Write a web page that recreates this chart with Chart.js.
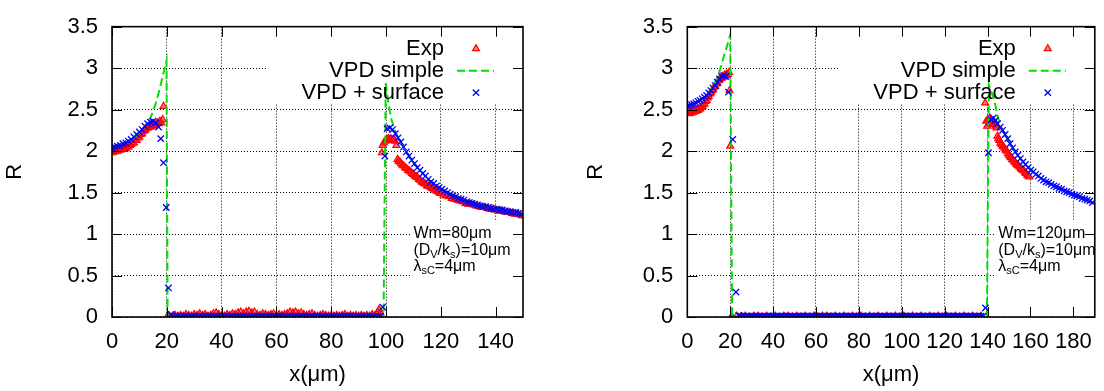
<!DOCTYPE html>
<html><head><meta charset="utf-8">
<script src="https://cdn.jsdelivr.net/npm/chart.js@4/dist/chart.umd.min.js"></script>
<style>
html,body{margin:0;padding:0;background:#fff;}
#wrap{position:relative;width:1104px;height:391px;overflow:hidden;background:#fff;}
canvas{position:absolute;top:0;}
#c1{left:0;} #c2{left:552px;}
</style></head><body>
<div id="wrap"><canvas id="c1" width="552" height="391"></canvas><canvas id="c2" width="552" height="391"></canvas></div>
<script>
const FONT = "'Liberation Sans', Arial, Helvetica, sans-serif";
const seriesLabels = ['Exp', 'VPD simple', 'VPD + surface'];
const yTicks = [0, 0.5, 1, 1.5, 2, 2.5, 3, 3.5];
const yTickLabels = ['0', '0.5', '1', '1.5', '2', '2.5', '3', '3.5'];
const xTicksLeft = [0, 20, 40, 60, 80, 100, 120, 140];
const xTicksRight = [0, 20, 40, 60, 80, 100, 120, 140, 160, 180];
const xTitle = 'x(μm)';
const yTitle = 'R';
const notesLeft = ['Wm=80μm', '(D_{V}/k_{s})=10μm', 'λ_{sC}=4μm'];
const notesRight = ['Wm=120μm', '(D_{V}/k_{s})=10μm', 'λ_{sC}=4μm'];

// ---------- left panel (Wm = 80 µm) ----------
const expLeft = [
 [0,1.98],[0.5,2.00],[1,1.99],[1.5,2.01],[2,2.00],[2.5,2.02],[3,2.01],[3.5,2.02],[4,2.02],[4.5,2.04],
 [5,2.03],[5.5,2.05],[6,2.05],[6.5,2.07],[7,2.08],[7.5,2.10],[8,2.10],[8.5,2.13],[9,2.13],[9.5,2.16],
 [10,2.17],[10.5,2.20],[11,2.21],[11.5,2.24],[12,2.25],[12.5,2.27],[13,2.28],[13.5,2.30],[14,2.29],[14.5,2.31],
 [15,2.30],[15.5,2.32],[16,2.31],[16.5,2.34],[17,2.33],[17.5,2.36],[18,2.34],[18.5,2.38],[18.8,2.54],
 [20.2,0.01],[21,0.01],[22,0.00],[23,0.02],[24,0.01],[25,0.02],[26,0.01],[27,0.03],[28,0.02],[29,0.01],
 [30,0.03],[31,0.02],[32,0.04],[33,0.02],[34,0.03],[35,0.01],[36,0.02],[37,0.04],[38,0.05],[39,0.03],
 [40,0.02],[41,0.01],[42,0.03],[43,0.02],[44,0.04],[45,0.03],[46,0.05],[47,0.06],[48,0.04],[49,0.06],
 [50,0.07],[51,0.05],[52,0.06],[53,0.03],[54,0.02],[55,0.04],[56,0.03],[57,0.02],[58,0.03],[59,0.04],
 [60,0.02],[61,0.03],[62,0.02],[63,0.03],[64,0.04],[65,0.06],[66,0.05],[67,0.06],[68,0.04],[69,0.05],
 [70,0.03],[71,0.02],[72,0.03],[73,0.04],[74,0.02],[75,0.01],[76,0.02],[77,0.03],[78,0.02],[79,0.01],
 [80,0.02],[81,0.01],[82,0.02],[83,0.01],[84,0.02],[85,0.03],[86,0.01],[87,0.02],[88,0.01],[89,0.02],
 [90,0.01],[91,0.02],[92,0.01],[93,0.02],[94,0.01],[95,0.03],[96,0.02],[97,0.06],[97.5,0.09],[98,0.05],
 [98.5,1.98],[98.8,2.07],[99.2,2.10],[99.8,2.12],[100.3,2.14],[100.8,2.15],[101.3,2.14],[101.8,2.15],[102.3,2.13],[102.8,2.14],
 [103.3,2.12],[103.8,2.07],[104.2,1.90],[104.6,1.88],[105,1.87],[105.5,1.85],[106,1.83],[106.5,1.82],[107,1.80],[107.5,1.79],
 [108,1.77],[108.5,1.76],[109,1.75],[109.5,1.73],[110,1.72],[110.5,1.70],[111,1.69],[111.5,1.68],[112,1.66],[112.5,1.65],
 [113,1.63],[113.5,1.62],[114,1.61],[114.5,1.60],[115,1.58],[115.5,1.58],[116,1.57],[116.5,1.56],[117,1.55],[117.5,1.54],
 [118,1.53],[118.5,1.52],[119,1.51],[119.5,1.50],[120,1.49],[121,1.47],[122,1.46],[123,1.45],[124,1.43],[125,1.42],
 [126,1.41],[127,1.40],[128,1.39],[129,1.37],[130,1.36],[131,1.36],[132,1.35],[133,1.34],[134,1.33],[135,1.32],
 [136,1.32],[137,1.31],[138,1.30],[139,1.30],[140,1.29],[141,1.28],[142,1.28],[143,1.27],[144,1.26],[145,1.26],
 [146,1.25],[147,1.24],[148,1.24],[149,1.23],[150,1.22]
];
const vpdSimpleLeft = [
 [0,2.03],[2,2.05],[4,2.08],[6,2.11],[8,2.16],[10,2.22],[12,2.30],[13,2.35],[14,2.40],[15,2.48],
 [16,2.58],[17,2.70],[18,2.83],[19,2.97],[19.9,3.09],[20.3,0],[99.1,0],[99.9,2.82],[101,2.55],[102,2.38],
 [103,2.27],[104,2.19],[105,2.13],[106,2.07],[108,1.96],[110,1.86],[112,1.78],[114,1.71],[116,1.64],[118,1.59],
 [120,1.54],[124,1.47],[128,1.41],[132,1.37],[136,1.33],[140,1.30],[145,1.27],[150,1.23]
];
const vpdSurfaceLeft = [
 [0,2.04],[1,2.05],[2,2.06],[3,2.07],[4,2.09],[5,2.10],[6,2.12],[7,2.14],[8,2.17],[9,2.20],
 [10,2.23],[11,2.26],[12,2.30],[13,2.33],[14,2.35],[15,2.36],[16,2.34],[17,2.29],[17.8,2.15],[18.8,1.86],
 [19.8,1.32],[20.6,0.35],[21.5,0.03],
 [22,0.01],[23,0.01],[24,0.01],[25,0.01],[26,0.01],[27,0.01],[28,0.01],[29,0.01],[30,0.01],[31,0.01],
 [32,0.01],[33,0.01],[34,0.01],[35,0.01],[36,0.01],[37,0.01],[38,0.01],[39,0.01],[40,0.01],[41,0.01],
 [42,0.01],[43,0.01],[44,0.01],[45,0.01],[46,0.01],[47,0.01],[48,0.01],[49,0.01],[50,0.01],[51,0.01],
 [52,0.01],[53,0.01],[54,0.01],[55,0.01],[56,0.01],[57,0.01],[58,0.01],[59,0.01],[60,0.01],[61,0.01],
 [62,0.01],[63,0.01],[64,0.01],[65,0.01],[66,0.01],[67,0.01],[68,0.01],[69,0.01],[70,0.01],[71,0.01],
 [72,0.01],[73,0.01],[74,0.01],[75,0.01],[76,0.01],[77,0.01],[78,0.01],[79,0.01],[80,0.01],[81,0.01],
 [82,0.01],[83,0.01],[84,0.01],[85,0.01],[86,0.01],[87,0.01],[88,0.01],[89,0.01],[90,0.01],[91,0.01],
 [92,0.01],[93,0.01],[94,0.01],[95,0.01],[96,0.01],[97,0.01],[98,0.01],
 [98.8,0.12],[99.6,1.94],[100.4,2.27],[101.4,2.28],[102.4,2.26],[103.4,2.21],[104.4,2.16],[105.4,2.11],[106.4,2.05],[107.4,1.99],
 [108.4,1.94],[109.4,1.89],[110.4,1.85],[111.4,1.80],[112.4,1.77],[113.4,1.73],[114.4,1.70],[115.4,1.66],[116.4,1.63],[117.4,1.61],
 [118.4,1.58],[119.4,1.56],[120.4,1.54],[121.4,1.52],[122.4,1.50],[123.4,1.48],[124.4,1.46],[125.4,1.45],[126.4,1.43],[127.4,1.42],
 [128.4,1.41],[129.4,1.39],[130.4,1.38],[131.4,1.37],[132.4,1.36],[133.4,1.35],[134.4,1.34],[135.4,1.33],[136.4,1.33],[137.4,1.32],
 [138.4,1.31],[139.4,1.30],[140.4,1.30],[141.4,1.29],[142.4,1.29],[143.4,1.28],[144.4,1.27],[145.4,1.27],[146.4,1.26],[147.4,1.26],
 [148.4,1.25],[149.4,1.24]
];

// ---------- right panel (Wm = 120 µm) ----------
const expRight = [
 [0,2.46],[0.5,2.48],[1,2.45],[1.5,2.47],[2,2.46],[2.5,2.48],[3,2.47],[3.5,2.49],[4,2.48],[4.5,2.50],
 [5,2.49],[5.5,2.51],[6,2.51],[6.5,2.53],[7,2.54],[7.5,2.56],[8,2.57],[8.5,2.60],[9,2.61],[9.5,2.64],
 [10,2.66],[10.5,2.69],[11,2.70],[11.5,2.73],[12,2.74],[12.5,2.77],[13,2.78],[13.5,2.81],[14,2.82],[14.5,2.85],
 [15,2.86],[15.5,2.88],[16,2.88],[16.5,2.90],[17,2.89],[17.5,2.92],[18,2.91],[18.5,2.93],[19,2.92],[19.5,2.95],
 [19.7,2.73],[20.0,2.06],[20.5,0.00],
 [21,0.00],[23,0.01],[25,0.00],[27,0.01],[29,0.00],[31,0.01],[33,0.01],[35,0.00],[37,0.01],[39,0.00],
 [41,0.01],[43,0.00],[45,0.01],[47,0.01],[49,0.00],[51,0.01],[53,0.00],[55,0.01],[57,0.00],[59,0.01],
 [61,0.00],[63,0.01],[65,0.01],[67,0.00],[69,0.01],[71,0.00],[73,0.01],[75,0.00],[77,0.01],[79,0.00],
 [81,0.01],[83,0.00],[85,0.01],[87,0.00],[89,0.01],[91,0.00],[93,0.01],[95,0.00],[97,0.01],[99,0.00],
 [101,0.01],[103,0.00],[105,0.01],[107,0.00],[109,0.01],[111,0.00],[113,0.01],[115,0.00],[117,0.01],[119,0.00],
 [121,0.01],[123,0.00],[125,0.01],[127,0.00],[129,0.01],[131,0.00],[133,0.01],[135,0.00],[137,0.01],
 [138.9,2.58],[139.4,2.36],[139.8,2.30],[140.2,2.38],[140.6,2.33],[141,2.40],[141.4,2.35],[141.8,2.37],[142.2,2.33],[142.6,2.36],
 [143,2.32],[143.4,2.34],[143.8,2.30],[144.2,2.28],[144.6,2.18],[145,2.15],[145.5,2.13],[146,2.10],[146.5,2.08],[147,2.06],
 [147.5,2.05],[148,2.03],[148.5,2.01],[149,2.00],[149.5,1.97],[150,1.95],[150.5,1.93],[151,1.92],[151.5,1.90],[152,1.89],
 [152.5,1.87],[153,1.86],[153.5,1.84],[154,1.83],[154.5,1.82],[155,1.81],[155.5,1.79],[156,1.78],[156.5,1.77],[157,1.76],
 [157.5,1.74],[158,1.73],[158.5,1.71],[159,1.70],[159.5,1.69]
];
const vpdSimpleRight = [
 [0,2.54],[4,2.58],[8,2.65],[10,2.71],[12,2.78],[13,2.83],[14,2.89],[15,2.96],[16,3.05],[17,3.14],
 [18,3.22],[19,3.31],[20,3.40],[20.9,0],[139.7,0],[140.6,2.80],[142,2.70],[143.2,2.61],[144.7,2.42],[146,2.31],
 [148,2.21],[150,2.11],[152,2.03],[155,1.92],[158,1.83],[161,1.76],[165,1.67],[170,1.60],[175,1.54],[180,1.48],
 [185,1.43],[190,1.37]
];
const vpdSurfaceRight = [
 [0,2.54],[1,2.55],[2,2.56],[3,2.57],[4,2.58],[5,2.60],[6,2.61],[7,2.63],[8,2.65],[9,2.67],
 [10,2.70],[11,2.73],[12,2.76],[13,2.79],[14,2.83],[15,2.87],[16,2.90],[17,2.91],[18,2.90],[19.2,2.71],
 [21.2,2.14],[22.7,0.30],[24,0.02],
 [25,0.01],[26,0.01],[27,0.01],[28,0.01],[29,0.01],[30,0.01],[31,0.01],[32,0.01],[33,0.01],[34,0.01],
 [35,0.01],[36,0.01],[37,0.01],[38,0.01],[39,0.01],[40,0.01],[41,0.01],[42,0.01],[43,0.01],[44,0.01],
 [45,0.01],[46,0.01],[47,0.01],[48,0.01],[49,0.01],[50,0.01],[51,0.01],[52,0.01],[53,0.01],[54,0.01],
 [55,0.01],[56,0.01],[57,0.01],[58,0.01],[59,0.01],[60,0.01],[61,0.01],[62,0.01],[63,0.01],[64,0.01],
 [65,0.01],[66,0.01],[67,0.01],[68,0.01],[69,0.01],[70,0.01],[71,0.01],[72,0.01],[73,0.01],[74,0.01],
 [75,0.01],[76,0.01],[77,0.01],[78,0.01],[79,0.01],[80,0.01],[81,0.01],[82,0.01],[83,0.01],[84,0.01],
 [85,0.01],[86,0.01],[87,0.01],[88,0.01],[89,0.01],[90,0.01],[91,0.01],[92,0.01],[93,0.01],[94,0.01],
 [95,0.01],[96,0.01],[97,0.01],[98,0.01],[99,0.01],[100,0.01],[101,0.01],[102,0.01],[103,0.01],[104,0.01],
 [105,0.01],[106,0.01],[107,0.01],[108,0.01],[109,0.01],[110,0.01],[111,0.01],[112,0.01],[113,0.01],[114,0.01],
 [115,0.01],[116,0.01],[117,0.01],[118,0.01],[119,0.01],[120,0.01],[121,0.01],[122,0.01],[123,0.01],[124,0.01],
 [125,0.01],[126,0.01],[127,0.01],[128,0.01],[129,0.01],[130,0.01],[131,0.01],[132,0.01],[133,0.01],[134,0.01],
 [135,0.01],[136,0.01],[137,0.01],[138,0.01],
 [139.0,0.11],[140.4,1.98],[141.7,2.38],[142.7,2.40],[143.7,2.37],[144.7,2.33],[145.9,2.29],[147.0,2.25],[148.2,2.20],[149.4,2.15],
 [150.5,2.09],[151.7,2.04],[152.9,1.99],[154.1,1.95],[155.3,1.91],[156.5,1.87],[157.7,1.84],[158.9,1.80],[160.1,1.77],[161.3,1.75],
 [162.5,1.72],[163.7,1.70],[164.9,1.67],[166.1,1.65],[167.3,1.63],[168.5,1.62],[169.7,1.60],[170.9,1.58],[172.1,1.57],[173.3,1.55],
 [174.5,1.54],[175.7,1.52],[176.9,1.51],[178.1,1.50],[179.3,1.48],[180.5,1.47],[181.7,1.46],[182.9,1.45],[184.1,1.43],[185.3,1.42],
 [186.5,1.41],[187.7,1.40],[188.9,1.38]
];

function toPts(a) { return a.map(p => ({ x: p[0], y: p[1] })); }

function drawRich(ctx, str, x, y, size, subSize, subDy) {
  const parts = str.split(/(_\{[^}]*\})/).filter(Boolean);
  let cx = x;
  parts.forEach(p => {
    if (p.startsWith('_{')) {
      const t = p.slice(2, -1);
      ctx.font = subSize + 'px ' + FONT;
      ctx.fillText(t, cx, y + subDy);
      cx += ctx.measureText(t).width;
    } else {
      ctx.font = size + 'px ' + FONT;
      ctx.fillText(p, cx, y);
      cx += ctx.measureText(p).width;
    }
  });
}

const gpPlugin = {
  id: 'gp',
  beforeDatasetsDraw(chart, args, o) {
    const ctx = chart.ctx, a = chart.chartArea;
    const xs = chart.scales.x, ys = chart.scales.y;
    ctx.save();
    ctx.fillStyle = '#fff';
    ctx.fillRect(a.right - o.keyWidth, a.top, o.keyWidth, o.keyHeight);
    const lx = xs.getPixelForValue(o.noteAt[0]) - 3;
    const ly = ys.getPixelForValue(o.noteAt[1]) - 13;
    ctx.fillRect(lx, ly, a.right - lx, a.bottom - ly);
    ctx.restore();
  },
  afterDatasetsDraw(chart, args, o) {
    const ctx = chart.ctx, a = chart.chartArea;
    const xs = chart.scales.x, ys = chart.scales.y;
    ctx.save();
    ctx.strokeStyle = '#000';
    ctx.lineWidth = 1;
    ctx.setLineDash([]);
    ctx.beginPath();
    xs.ticks.forEach(t => {
      const px = Math.round(xs.getPixelForValue(t.value)) + 0.5;
      ctx.moveTo(px, a.bottom); ctx.lineTo(px, a.bottom - 10);
      ctx.moveTo(px, a.top); ctx.lineTo(px, a.top + 10);
    });
    ys.ticks.forEach(t => {
      const py = Math.round(ys.getPixelForValue(t.value)) + 0.5;
      ctx.moveTo(a.left, py); ctx.lineTo(a.left + 10, py);
      ctx.moveTo(a.right, py); ctx.lineTo(a.right - 10, py);
    });
    ctx.stroke();
    ctx.lineWidth = 1.6;
    ctx.strokeRect(a.left, a.top, a.right - a.left, a.bottom - a.top);

    ctx.fillStyle = '#000';
    ctx.textBaseline = 'middle';
    ctx.textAlign = 'right';
    ctx.font = '22px ' + FONT;
    chart.data.datasets.forEach((ds, i) => {
      const y = a.top + 22 + i * 22;
      ctx.fillStyle = '#000';
      ctx.fillText(ds.label, a.right - 79, y);
      if (ds.showLine) {
        ctx.save();
        ctx.strokeStyle = ds.borderColor;
        ctx.lineWidth = ds.borderWidth;
        ctx.setLineDash(ds.borderDash || []);
        ctx.beginPath();
        ctx.moveTo(a.right - 66, y); ctx.lineTo(a.right - 29, y);
        ctx.stroke();
        ctx.restore();
      } else {
        ctx.save();
        ctx.strokeStyle = ds.borderColor;
        ctx.fillStyle = ds.backgroundColor;
        ctx.lineWidth = ds.pointBorderWidth;
        Chart.helpers.drawPoint(ctx, { pointStyle: ds.pointStyle, radius: ds.pointRadius, borderWidth: ds.pointBorderWidth, rotation: 0 }, a.right - 47, y);
        ctx.restore();
      }
    });

    ctx.textAlign = 'left';
    ctx.fillStyle = '#000';
    const nx = xs.getPixelForValue(o.noteAt[0]);
    const ny = ys.getPixelForValue(o.noteAt[1]);
    o.notes.forEach((n, i) => drawRich(ctx, n, nx, ny + i * 16.5, 16, 11, 4));
    ctx.restore();
  }
};

function makeChart(id, cfg) {
  return new Chart(document.getElementById(id), {
    type: 'scatter',
    data: {
      datasets: [
        { label: seriesLabels[0], data: toPts(cfg.exp), showLine: false, pointStyle: 'triangle', pointRadius: 4, pointBorderWidth: 1.2,
          borderColor: '#ff0000', backgroundColor: 'rgba(255,40,40,0.6)', order: 3 },
        { type: 'line', label: seriesLabels[1], data: toPts(cfg.simple), showLine: true, borderColor: '#00e000', borderWidth: 2,
          borderDash: [8, 4], pointRadius: 0, fill: false, tension: 0, order: 2 },
        { label: seriesLabels[2], data: toPts(cfg.surf), showLine: false, pointStyle: 'crossRot', pointRadius: 4.5, pointBorderWidth: 1.3,
          borderColor: '#0000ff', backgroundColor: '#0000ff', order: 1 }
      ]
    },
    options: {
      responsive: false, animation: false, events: [],
      layout: { padding: cfg.padding },
      plugins: { legend: { display: false }, tooltip: { enabled: false }, gp: cfg.gp },
      scales: {
        x: {
          type: 'linear', min: 0, max: cfg.xMax,
          afterFit: s => { s.height = 74; },
          afterBuildTicks: s => { s.ticks = cfg.xTicks.map(v => ({ value: v })); },
          ticks: { callback: v => String(v), font: { size: 22, family: FONT, lineHeight: 1.15 }, color: '#000', padding: 12, maxRotation: 0, autoSkip: false },
          grid: { color: '#000', lineWidth: 1, drawTicks: false },
          border: { display: false, dash: [1, 2] },
          title: { display: true, text: xTitle, font: { size: 22, family: FONT }, color: '#000', padding: { top: 0, bottom: 3 } }
        },
        y: {
          type: 'linear', min: 0, max: 3.5,
          afterFit: s => { s.width = cfg.yAxisWidth; },
          afterBuildTicks: s => { s.ticks = yTicks.map(v => ({ value: v })); },
          ticks: { callback: (v, i) => yTickLabels[i], font: { size: 22, family: FONT, lineHeight: 1.15 }, color: '#000', padding: 14, autoSkip: false },
          grid: { color: '#000', lineWidth: 1, drawTicks: false },
          border: { display: false, dash: [1, 2] },
          title: { display: true, text: yTitle, font: { size: 22, family: FONT }, color: '#000', padding: { top: 2, bottom: 0 } }
        }
      }
    },
    plugins: [gpPlugin]
  });
}

makeChart('c1', {
  exp: expLeft, simple: vpdSimpleLeft, surf: vpdSurfaceLeft,
  xMax: 150, xTicks: xTicksLeft, yAxisWidth: 112,
  padding: { left: 0, right: 29, top: 13, bottom: 0 },
  gp: { keyWidth: 256, keyHeight: 77, noteAt: [110, 1.0], notes: notesLeft }
});
makeChart('c2', {
  exp: expRight, simple: vpdSimpleRight, surf: vpdSurfaceRight,
  xMax: 190, xTicks: xTicksRight, yAxisWidth: 106.3,
  padding: { left: 29, right: 4, top: 13, bottom: 0 },
  gp: { keyWidth: 257, keyHeight: 77, noteAt: [145, 1.0], notes: notesRight }
});
</script></body></html>
